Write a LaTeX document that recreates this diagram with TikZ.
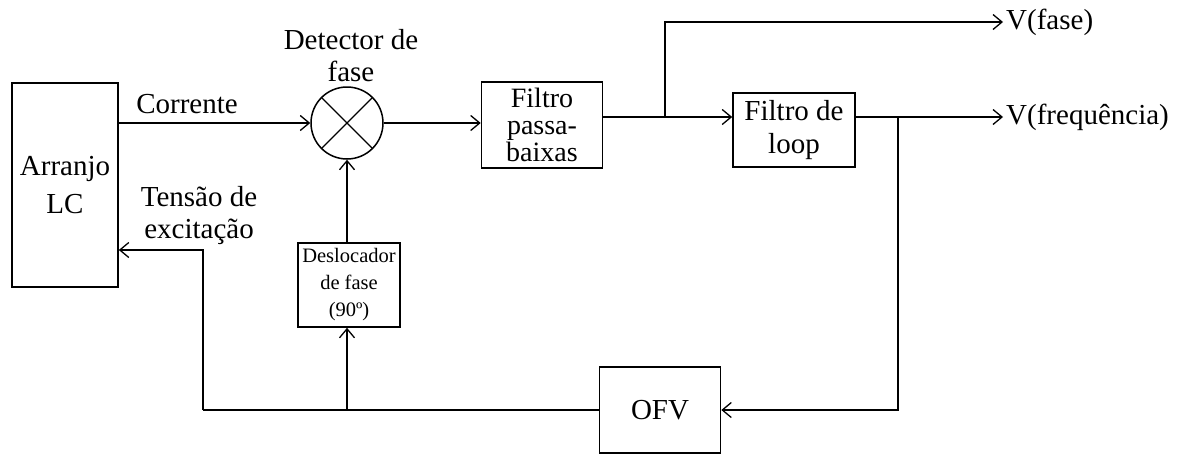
\documentclass[tikz,border=0pt]{standalone}
\usepackage{fontspec}
\setmainfont{Liberation Serif}
\usetikzlibrary{arrows.meta,positioning,shapes}

\begin{document}
\begin{tikzpicture}[x=1pt,y=-1pt,
    bloco/.style={draw, line width=1.6pt, rectangle, align=center, inner sep=1pt,
                  font=\fontsize{29}{33}\selectfont},
    rotulo/.style={align=center, inner sep=0pt, font=\fontsize{29}{32}\selectfont},
    seta/.style={line width=1.5pt, -{Straight Barb[length=9pt,width=15pt,line width=1.3pt]}},
    linha/.style={line width=1.5pt}]
            \useasboundingbox (0,0) rectangle (1190,458);

            % Blocos
            \node[bloco, minimum width=106pt, minimum height=204pt, font=\fontsize{29}{38}\selectfont] (lc) at (65,185) {Arranjo\\LC};
            \node[draw, circle, line width=1.5pt, minimum size=72pt] (det) at (347,123) {};
            \draw[line width=1.3pt] (det.north west) -- (det.south east);
            \draw[line width=1.3pt] (det.north east) -- (det.south west);
            \node[rotulo] (detlbl) at (351,56) {Detector de\\fase};

            \node[bloco, minimum width=121pt, minimum height=86pt, font=\fontsize{28}{27}\selectfont] (fpb) at (542,125) {Filtro\\passa-\\baixas};
            \node[bloco, minimum width=122pt, minimum height=74pt] (loop) at (794,130) {Filtro de\\loop};
            \node[bloco, minimum width=102pt, minimum height=84pt, font=\fontsize{20.5}{27}\selectfont] (desl) at (349,285) {Deslocador\\de fase\\(90º)};
            \node[bloco, minimum width=121pt, minimum height=86pt] (ofv) at (660,410) {OFV};

            % Pontos de derivacao
            \coordinate (j1) at (665,117);
            \coordinate (j2) at (898,117);
            \coordinate (j3) at (203,410);
            \coordinate (j4) at (347,410);
            \coordinate (vf) at (1003,22);
            \coordinate (vq) at (1003,117);

            % Ligacoes
            \draw[seta] (lc.east |- det.west) -- (det.west);
            \node[rotulo] (corr) at (187,104) {Corrente};
            \draw[seta] (det.east) -- (fpb.west |- det.east);
            \draw[linha] (fpb.east |- j1) -- (j1);
            \draw[seta] (j1) -- (loop.west |- j1);
            \draw[seta] (j1) |- (vf);
            \node[rotulo, anchor=west, inner sep=3pt] (vfase) at (vf) {V(fase)};
            \draw[seta, line width=2.4pt] (loop.east |- j2) -- (vq);
            \node[rotulo, anchor=west, inner sep=3pt] (vfreq) at (vq) {V(frequência)};
            \draw[seta] (j2) |- (ofv.east);
            \draw[linha] (ofv.west) -- (j3);
            \draw[seta] (j3) |- (lc.east |- 0,250);
            \node[rotulo] (tens) at (199,216) {Tensão de\\excitação};
            \draw[seta] (j4) -- (desl.south -| j4);
            \draw[seta] (desl.north -| det.south) -- (det.south);
        \end{tikzpicture}
\end{document}
